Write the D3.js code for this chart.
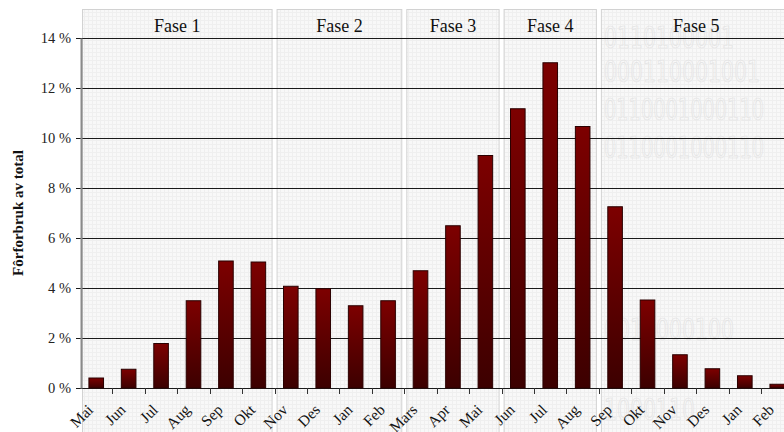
<!DOCTYPE html>
<html>
<head>
<meta charset="utf-8">
<script src="https://cdn.jsdelivr.net/npm/d3@7"></script>
<style>
  body { margin: 0; background: #fff; }
  svg { display: block; font-family: "Liberation Serif", "DejaVu Serif", serif; }
</style>
</head>
<body>
<div id="chart"></div>
<script>
// months, May one year to Feb two years later
const months = ['Mai', 'Jun', 'Jul', 'Aug', 'Sep', 'Okt', 'Nov', 'Des', 'Jan', 'Feb', 'Mars',
    'Apr', 'Mai', 'Jun', 'Jul', 'Aug', 'Sep', 'Okt', 'Nov', 'Des', 'Jan', 'Feb'];
// share of total feed use, percent
const values = [0.4, 0.75, 1.78, 3.49, 5.08, 5.04, 4.07, 3.97, 3.29, 3.49, 4.69,
    6.49, 9.3, 11.17, 13.01, 10.46, 7.25, 3.52, 1.33, 0.77, 0.49, 0.15];
const phases = ['Fase 1', 'Fase 2', 'Fase 3', 'Fase 4', 'Fase 5'];
const phaseLengths = [6, 4, 3, 3, 6];
const yTicks = [0, 2, 4, 6, 8, 10, 12, 14];
// faint background watermark
const watermark = ['0110100001', '000110001001', '0110001000110', '0110001000110',
    '0011000100', '1000110'];
const watermarkY = [48, 82, 120, 158, 340, 420];

const W = 784, H = 432;

const svg = d3.select('#chart')
    .append('svg')
    .attr('width', W)
    .attr('height', H);

const x = d3.scaleBand()
    .domain(d3.range(months.length))
    .range([80, 80 + months.length * 32.43])
    .padding(0);

const y = d3.scaleLinear()
    .domain([0, 14])
    .range([388, 38]);

const defs = svg.append('defs');

// fine grid texture of the phase panels
const pat = defs.append('pattern')
    .attr('id', 'tex')
    .attr('width', 4)
    .attr('height', 4)
    .attr('patternUnits', 'userSpaceOnUse');
pat.append('rect').attr('width', 4).attr('height', 4).attr('fill', '#f8f8f8');
pat.append('path').attr('d', 'M0 0.5H4M0.5 0V4').attr('stroke', '#efefef').attr('stroke-width', 1);

const grad = defs.append('linearGradient')
    .attr('id', 'barGrad')
    .attr('x1', 0).attr('y1', 0).attr('x2', 0).attr('y2', 1);
grad.append('stop').attr('offset', '0%').attr('stop-color', '#7d0000');
grad.append('stop').attr('offset', '100%').attr('stop-color', '#3c0000');

// phase panels
let start = 0;
const panels = phases.map(function(p, i) {
    const o = {name: p, a: start, b: start + phaseLengths[i]};
    start += phaseLengths[i];
    return o;
});

const step = x.step();

svg.selectAll('rect.panel')
    .data(panels)
    .enter()
    .append('rect')
    .attr('class', 'panel')
    .attr('x', d => x(d.a) + 2.5)
    .attr('y', 9.5)
    .attr('width', d => (d.b - d.a) * step - 5)
    .attr('height', H)
    .attr('fill', 'url(#tex)')
    .attr('stroke', '#d2d2d2')
    .attr('stroke-width', 1);

// watermark text
svg.append('g')
    .selectAll('text')
    .data(watermark)
    .enter()
    .append('text')
    .attr('x', 604)
    .attr('y', (d, i) => watermarkY[i])
    .attr('font-family', 'DejaVu Sans Condensed, sans-serif')
    .attr('font-size', 30)
    .attr('fill', 'none')
    .attr('stroke', '#e2e2e2')
    .attr('stroke-width', 0.7)
    .attr('textLength', d => Math.min(d.length * 13, 160))
    .attr('lengthAdjust', 'spacingAndGlyphs')
    .text(d => d);

svg.selectAll('text.phase')
    .data(panels)
    .enter()
    .append('text')
    .attr('class', 'phase')
    .attr('x', d => x(d.a) + (d.b - d.a) * step / 2)
    .attr('y', 32)
    .attr('text-anchor', 'middle')
    .attr('font-size', 18)
    .attr('fill', '#111')
    .text(d => d.name);

// horizontal gridlines
svg.selectAll('line.grid')
    .data(yTicks)
    .enter()
    .append('line')
    .attr('class', 'grid')
    .attr('x1', 76)
    .attr('x2', W)
    .attr('y1', d => Math.round(y(d)) + 0.5)
    .attr('y2', d => Math.round(y(d)) + 0.5)
    .attr('stroke', '#1a1a1a')
    .attr('stroke-width', 1);

// y axis
const yAxis = svg.append('g')
    .attr('transform', 'translate(81,0)')
    .call(d3.axisLeft(y)
        .tickValues(yTicks)
        .tickSize(0)
        .tickPadding(10)
        .tickFormat(d => d + ' %'));
yAxis.select('.domain')
    .attr('stroke', '#8a8a8a')
    .attr('stroke-width', 2);
yAxis.selectAll('text')
    .attr('font-family', '"Liberation Serif", serif')
    .attr('font-size', 14.5)
    .attr('fill', '#222');

svg.append('text')
    .attr('transform', 'translate(23,213) rotate(-90)')
    .attr('text-anchor', 'middle')
    .attr('font-size', 15)
    .attr('font-weight', 'bold')
    .attr('fill', '#111')
    .text('Fôrforbruk av total');

// x ticks at band boundaries
svg.selectAll('line.xtick')
    .data(d3.range(1, months.length + 1))
    .enter()
    .append('line')
    .attr('class', 'xtick')
    .attr('x1', d => Math.round(x(d - 1) + step) + 0.5)
    .attr('x2', d => Math.round(x(d - 1) + step) + 0.5)
    .attr('y1', 388)
    .attr('y2', 394)
    .attr('stroke', '#333');

// bars
const bw = step * 0.45;
svg.selectAll('rect.bar')
    .data(values)
    .enter()
    .append('rect')
    .attr('class', 'bar')
    .attr('x', (d, i) => x(i) + (step - bw) / 2)
    .attr('y', d => y(d))
    .attr('width', bw)
    .attr('height', d => y(0) - y(d))
    .attr('fill', 'url(#barGrad)')
    .attr('stroke', '#2a0000')
    .attr('stroke-width', 1);

// month labels
svg.selectAll('text.month')
    .data(months)
    .enter()
    .append('text')
    .attr('class', 'month')
    .attr('transform', (d, i) => `translate(${x(i) + step / 2 - 6},407) rotate(-45)`)
    .attr('text-anchor', 'end')
    .attr('dy', '0.35em')
    .attr('font-size', 15.5)
    .attr('fill', '#111')
    .text(d => d);
</script>
</body>
</html>
